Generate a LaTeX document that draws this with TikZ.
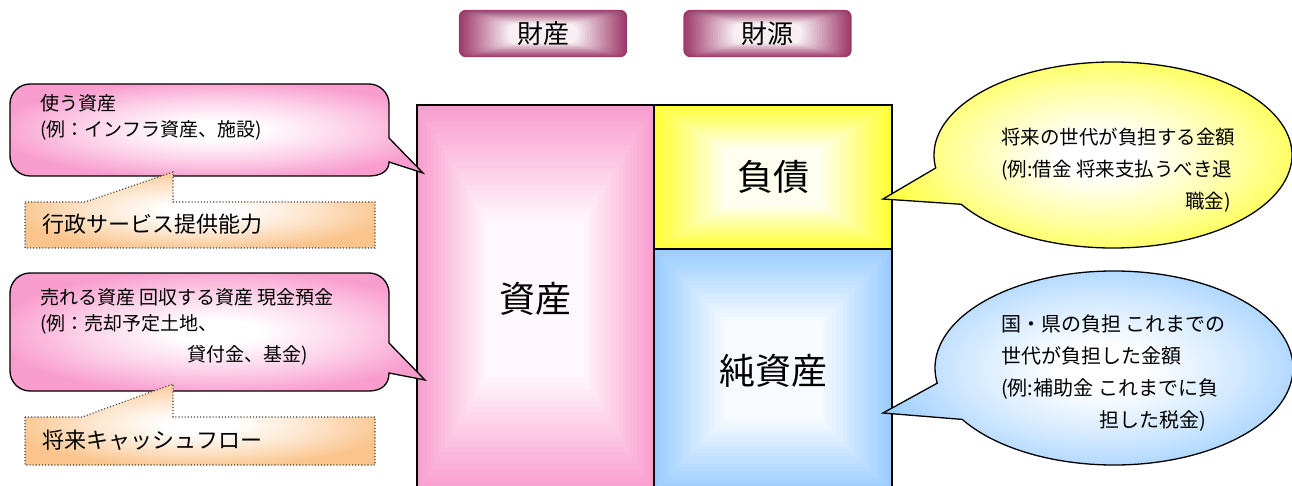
\documentclass[tikz,border=0pt]{standalone}
\usepackage{fontspec}
\newfontfamily\jp{Noto Sans CJK JP}
\usepackage{tikz}
\usetikzlibrary{calc,backgrounds}

\definecolor{assetpink}{RGB}{249,157,206}
\definecolor{debtyellow}{RGB}{255,255,51}
\definecolor{netblue}{RGB}{153,204,255}
\definecolor{notepeach}{RGB}{250,196,140}
\definecolor{tabmaroon}{RGB}{158,58,106}

\colorlet{glowcol}{assetpink}
\pgfdeclareradialshading[glowcol]{softglow}{\pgfpointorigin}{%
  color(0bp)=(white); color(5bp)=(white); color(16bp)=(glowcol!45!white);
  color(27bp)=(glowcol); color(50bp)=(glowcol)}

% banded fill from the border to the middle
\newcommand{\glowrect}[4][]{%
  \foreach \k in {0,...,20}{%
    \pgfmathsetmacro{\mix}{100-4.6*\k}%
    \fill[#1, #4!\mix!white] ($(#2)!{0.0148*\k}!(#3)$) rectangle ($(#3)!{0.0148*\k}!(#2)$);
  }}

\tikzset{
  glow/.style={shade, shading=softglow, /utils/exec={\colorlet{glowcol}{#1}}},
  block/.style={draw, line width=1.2pt, inner sep=0pt, font=\jp\fontsize{36}{40}\selectfont},
  tab/.style={rounded corners=7pt, minimum width=168pt, minimum height=47pt, inner sep=0pt,
    font=\jp\fontsize{26}{30}\selectfont},
  talk/.style={draw, line width=1.3pt, glow=#1},
  note/.style={draw=black!75, dotted, line width=1.1pt, glow=notepeach},
  say/.style={align=left, inner sep=0pt, font=\jp\fontsize{19}{26}\selectfont},
  notetext/.style={inner sep=0pt, font=\jp\fontsize{22}{26}\selectfont}
}

\begin{document}
\begin{tikzpicture}[x=1pt, y=-1pt]
  \useasboundingbox (0,0) rectangle (1292,486);

  % headings
  \node[tab] (stock) at (543,33.5) {財産};
  \node[tab] (source) at (767.5,33.5) {財源};

  % balance sheet
  \node[block, minimum width=237pt, minimum height=387pt] (asset) at (535.5,298.5) {資産};
  \node[block, minimum width=238pt, minimum height=144pt] (debt) at (773,177) {負債};
  \node[block, minimum width=238pt, minimum height=243pt] (net) at (773,370.5) {純資産};

  \begin{scope}[on background layer]
    \glowrect{asset.south west}{asset.north east}{assetpink}
    \glowrect{debt.south west}{debt.north east}{debtyellow}
    \glowrect{net.south west}{net.north east}{netblue}
    \glowrect[rounded corners=7pt]{stock.south west}{stock.north east}{tabmaroon}
    \glowrect[rounded corners=7pt]{source.south west}{source.north east}{tabmaroon}
  \end{scope}

  % left callouts
  \draw[talk=assetpink] (30,84) -- (369,84) .. controls (380,84) and (389,93) .. (389,104)
    -- (389,138) -- (423,173) -- (389,162) .. controls (389,171) and (381,176) .. (369,176)
    -- (30,176) .. controls (19,176) and (10,167) .. (10,156)
    -- (10,104) .. controls (10,93) and (19,84) .. (30,84) -- cycle;
  \draw[talk=assetpink] (30,273) -- (369,273) .. controls (380,273) and (389,282) .. (389,293)
    -- (389,343) -- (425,380) -- (389,373) .. controls (389,385) and (381,391) .. (369,391)
    -- (30,391) .. controls (19,391) and (10,382) .. (10,371)
    -- (10,293) .. controls (10,282) and (19,273) .. (30,273) -- cycle;
  \draw[note] (25,202) -- (85,202) -- (173,172) -- (173,202) -- (375,202) -- (375,248) -- (25,248) -- cycle;
  \draw[note] (25,417) -- (82,417) -- (173,384) -- (173,417) -- (375,417) -- (375,465) -- (25,465) -- cycle;

  \node[say, anchor=west] (useasset) at (40,117.5) {使う資産\\(例：インフラ資産、施設)};
  \node[say, anchor=west] (sellasset) at (40,327) {売れる資産 回収する資産 現金預金\\(例：売却予定土地、\\[5pt]\hspace*{147pt}貸付金、基金)};
  \node[notetext, anchor=west] (service) at (42,224) {行政サービス提供能力};
  \node[notetext, anchor=west] (cashflow) at (42,440) {将来キャッシュフロー};

  % right callouts
  \coordinate (dc) at (1113,155);
  \coordinate (nc) at (1114,368);
  \draw[talk=debtyellow] ($(dc)+(172:179 and 93)$) -- (883,199) -- ($(dc)+(148:179 and 93)$)
    arc[start angle=148, end angle=-188, x radius=179, y radius=93] -- cycle;
  \draw[talk=netblue] ($(nc)+(171:179 and 97)$) -- (883,413) -- ($(nc)+(148:179 and 97)$)
    arc[start angle=148, end angle=-189, x radius=179, y radius=97] -- cycle;

  \node[say, font=\jp\fontsize{19.5}{32}\selectfont, anchor=west] (debtnote) at (1001,170)
    {将来の世代が負担する金額\\(例:借金 将来支払うべき退\\\hspace*{184pt}職金)};
  \node[say, font=\jp\fontsize{20}{32}\selectfont, anchor=west] (netnote) at (1001,373)
    {国・県の負担 これまでの\\世代が負担した金額\\(例:補助金 これまでに負\\\hspace*{98pt}担した税金)};
\end{tikzpicture}
\end{document}
